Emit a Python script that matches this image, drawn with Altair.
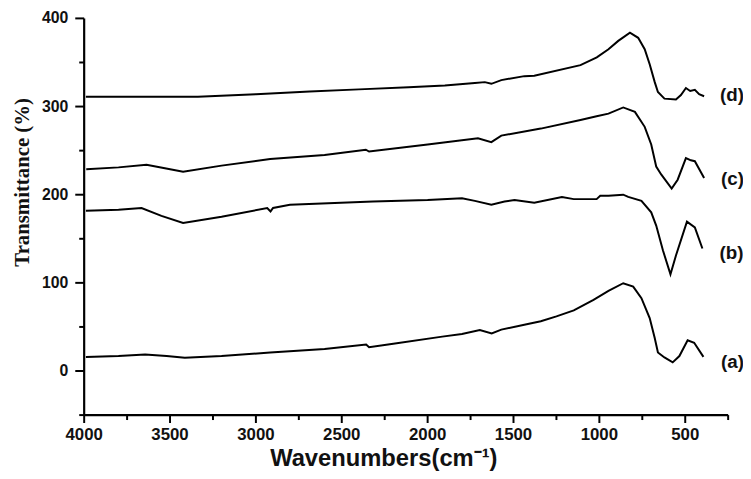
import altair as alt
import pandas as pd

# ---- data ----
a_wn = [3990, 3800, 3645, 3520, 3414, 3200, 2917, 2600, 2358, 2341, 2200, 1915, 1800, 1696, 1627, 1571, 1437, 1341, 1250, 1149, 1034, 947, 861, 803, 755, 707, 678, 659, 621, 573, 534, 486, 448, 394]
a_t  = [16, 17, 18.7, 17, 15, 17, 21, 25, 30, 27, 31, 39, 42, 46.4, 42.6, 47, 52.4, 56.5, 62, 68.8, 80.8, 91, 99.6, 95.7, 82.7, 60, 37.8, 21, 15.4, 9.8, 17, 34.8, 32, 16]

b_wn = [3990, 3800, 3666, 3550, 3424, 3200, 2934, 2915, 2900, 2802, 2318, 2000, 1800, 1725, 1629, 1552, 1494, 1379, 1218, 1149, 1016, 995, 947, 861, 832, 755, 698, 669, 630, 586, 554, 490, 444, 400]
b_t  = [181.8, 183, 184.8, 176, 168, 175, 184.8, 181, 185, 188.6, 192.3, 194, 196, 193, 188.6, 192.3, 194, 191, 197.5, 195, 195, 198.7, 198.7, 200, 197.5, 193, 180, 165, 137, 109.6, 131, 169.5, 163, 139]

c_wn = [3988, 3800, 3637, 3530, 3424, 3200, 2917, 2600, 2360, 2341, 2000, 1707, 1629, 1571, 1341, 1110, 1016, 947, 861, 793, 736, 698, 669, 640, 579, 544, 496, 467, 444, 390]
c_t  = [229, 231, 234, 230, 226, 233, 240.5, 245, 251, 249, 257, 264, 259.7, 267, 275, 284.7, 289, 292, 299, 294, 277, 257, 232, 223, 207, 217, 241.6, 239, 238, 219]

d_wn = [3990, 3600, 3338, 3000, 2687, 2400, 2111, 1900, 1725, 1667, 1629, 1571, 1437, 1379, 1110, 1015, 947, 890, 822, 774, 736, 707, 678, 659, 621, 554, 525, 496, 471, 444, 419, 390]
d_t  = [311, 311, 311, 314, 317, 319.5, 322, 324, 326.6, 327.7, 325.8, 330, 334.5, 335, 347, 355.8, 365, 374.5, 383.8, 378, 365, 348, 328, 316.5, 309, 308, 313, 321, 317.6, 319, 314, 311.7]

label_text = ["(a)", "(b)", "(c)", "(d)"]
label_wn = [225, 230, 225, 228]
label_t = [10, 133.6, 218, 313]

x_title = "Wavenumbers(cm⁻¹)"
y_title = "Transmittance (%)"

x_min, x_max = 250, 4000
y_min, y_max = -50, 400
x_major = [4000, 3500, 3000, 2500, 2000, 1500, 1000, 500]
x_minor = [3750, 3250, 2750, 2250, 1750, 1250, 750, 250]
y_major = [0, 100, 200, 300, 400]
y_minor = [-50, 50, 150, 250, 350]

rows = []
for name, wn, t in [("a", a_wn, a_t), ("b", b_wn, b_t), ("c", c_wn, c_t), ("d", d_wn, d_t)]:
    for w, v in zip(wn, t):
        rows.append({"series": name, "wn": w, "t": v})
df = pd.DataFrame(rows)
labels = pd.DataFrame({"lab": label_text, "wn": label_wn, "t": label_t})

# axis frame lines (bottom and left) drawn through the scales
frame = pd.DataFrame({
    "side": ["bottom", "bottom", "left", "left"],
    "wn": [x_max, x_min, x_max, x_max],
    "t": [y_min, y_min, y_min, y_max],
})
xt_major = pd.DataFrame({"wn": x_major, "t": [y_min] * len(x_major), "lab": [str(v) for v in x_major]})
xt_minor = pd.DataFrame({"wn": x_minor, "t": [y_min] * len(x_minor)})
yt_major = pd.DataFrame({"wn": [x_max] * len(y_major), "t": y_major, "lab": [str(v) for v in y_major]})
yt_minor = pd.DataFrame({"wn": [x_max] * len(y_minor), "t": y_minor})
xtitle_df = pd.DataFrame({"wn": [2255], "t": [y_min], "lab": [x_title]})
ytitle_df = pd.DataFrame({"wn": [x_max], "t": [214], "lab": [y_title]})

xs = alt.Scale(domain=[x_min, x_max], reverse=True, nice=False, zero=False)
ys = alt.Scale(domain=[y_min, y_max], nice=False, zero=False)

lab_font = "Liberation Sans"

X = alt.X("wn:Q", scale=xs, axis=None)
Y = alt.Y("t:Q", scale=ys, axis=None)

lines = alt.Chart(df).mark_line(color="black", strokeWidth=2).encode(x=X, y=Y, detail="series:N")

frame_lines = alt.Chart(frame).mark_line(color="black", strokeWidth=2.2).encode(x=X, y=Y, detail="side:N")

def xticks(data, size):
    return alt.Chart(data).mark_tick(
        color="black", opacity=1, orient="vertical", size=size, thickness=2, yOffset=size / 2
    ).encode(x=X, y=Y)

def yticks(data, size):
    return alt.Chart(data).mark_tick(
        color="black", opacity=1, orient="horizontal", size=size, thickness=2, xOffset=-size / 2
    ).encode(x=X, y=Y)

x_labels = alt.Chart(xt_major).mark_text(
    font=lab_font, fontSize=17, fontWeight="bold", color="#111",
    align="center", baseline="top", yOffset=12
).encode(x=X, y=Y, text="lab:N")

y_labels = alt.Chart(yt_major).mark_text(
    font=lab_font, fontSize=16, fontWeight="bold", color="#111",
    align="right", baseline="middle", xOffset=-16
).encode(x=X, y=Y, text="lab:N")

x_title_mark = alt.Chart(xtitle_df).mark_text(
    font=lab_font, fontSize=24, fontWeight="bold", color="#111",
    align="center", baseline="alphabetic", yOffset=51
).encode(x=X, y=Y, text="lab:N")

y_title_mark = alt.Chart(ytitle_df).mark_text(
    font="Liberation Serif", fontSize=21, fontWeight="bold", color="#111",
    align="center", baseline="middle", angle=270, xOffset=-62
).encode(x=X, y=Y, text="lab:N")

text = alt.Chart(labels).mark_text(
    font=lab_font, fontSize=19, fontWeight="bold", color="#111", align="center", baseline="middle"
).encode(x=X, y=Y, text="lab:N")

chart = alt.layer(
    lines, frame_lines,
    xticks(xt_major, 8), xticks(xt_minor, 5),
    yticks(yt_major, 9), yticks(yt_minor, 5),
    x_labels, y_labels, x_title_mark, y_title_mark,
    text,
).properties(
    width=651, height=401,
    background="white",
    autosize=alt.AutoSizeParams(type="none"),
    padding={"left": 77, "top": 8, "right": 15, "bottom": 54},
).configure_view(stroke=None)

chart.save("out.html", embed_options={"renderer": "svg", "actions": False})
